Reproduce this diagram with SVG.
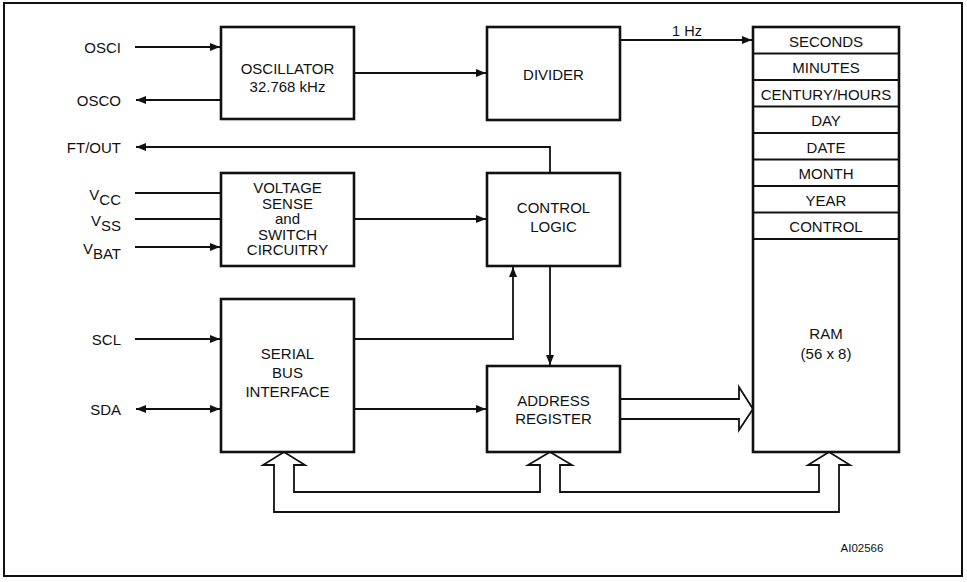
<svg xmlns="http://www.w3.org/2000/svg" width="967" height="582" viewBox="0 0 967 582">
<style>
text{font-family:"Liberation Sans",Arial,sans-serif;font-size:15px;fill:#111}
.c{text-anchor:middle}
.e{text-anchor:end}
.box{fill:#fff;stroke:#111;stroke-width:2.6}
.ln{fill:none;stroke:#111;stroke-width:1.8}
.row{stroke:#111;stroke-width:2}
</style>
<defs>
<marker id="arr" viewBox="0 0 10 8" refX="10" refY="4" markerWidth="11" markerHeight="8" orient="auto-start-reverse" markerUnits="userSpaceOnUse">
<path d="M0,0 L10,4 L0,8 z" fill="#111"/>
</marker>
</defs>
<rect x="0" y="0" width="967" height="582" fill="#fff"/>
<rect x="4" y="3" width="958" height="573" fill="none" stroke="#111" stroke-width="2"/>

<g id="connectors">
<path class="ln" d="M135,47 H220" marker-end="url(#arr)"/>
<path class="ln" d="M221,100 H136" marker-end="url(#arr)"/>
<path class="ln" d="M354,73 H486" marker-end="url(#arr)"/>
<path class="ln" d="M550,173 V147 H136" marker-end="url(#arr)"/>
<path class="ln" d="M135,193 H221"/>
<path class="ln" d="M135,219 H221"/>
<path class="ln" d="M135,247 H220" marker-end="url(#arr)"/>
<path class="ln" d="M354,219 H486" marker-end="url(#arr)"/>
<path class="ln" d="M620,40 H752" marker-end="url(#arr)"/>
<path class="ln" d="M135,339 H220" marker-end="url(#arr)"/>
<path class="ln" d="M136,409 H220" marker-start="url(#arr)" marker-end="url(#arr)"/>
<path class="ln" d="M354,339 H513 V267" marker-end="url(#arr)"/>
<path class="ln" d="M550,266 V365" marker-end="url(#arr)"/>
<path class="ln" d="M354,409 H486" marker-end="url(#arr)"/>
<path class="ln" d="M620,399 H739 V387 L753,409 L739,430 V419 H620" fill="#fff"/>
<path class="ln" fill="#fff" d="M274,465 V512 H839 V465 H850 L829,452 L808,465 H819 V492 H560 V465 H572 L550,452 L528,465 H540 V492 H294 V465 H305 L284,452 L263,465 Z"/>
</g>

<g id="labels">
<text class="e" x="121" y="52.5">OSCI</text>
<text class="e" x="121" y="105.5">OSCO</text>
<text class="e" x="121" y="152.5">FT/OUT</text>
<text class="e" x="121" y="200">V<tspan dy="4.5">CC</tspan></text>
<text class="e" x="121" y="226">V<tspan dy="4.5">SS</tspan></text>
<text class="e" x="121" y="254">V<tspan dy="4.5">BAT</tspan></text>
<text class="e" x="121" y="344.5">SCL</text>
<text class="e" x="121" y="414.5">SDA</text>
<text class="c" x="687" y="36" style="font-size:14.5px">1 Hz</text>
<text class="c" x="862" y="551.5" style="font-size:11.5px">AI02566</text>
</g>

<g id="oscillator">
<rect class="box" x="221" y="27" width="133" height="92"/>
<text class="c" x="287.5" y="73.5">OSCILLATOR</text>
<text class="c" x="287.5" y="92">32.768 kHz</text>
</g>

<g id="divider">
<rect class="box" x="487" y="27" width="133" height="93"/>
<text class="c" x="553.5" y="79.5">DIVIDER</text>
</g>

<g id="voltage">
<rect class="box" x="221" y="173" width="133" height="93"/>
<text class="c" x="287.5" y="193">VOLTAGE</text>
<text class="c" x="287.5" y="208.5">SENSE</text>
<text class="c" x="287.5" y="223.5">and</text>
<text class="c" x="287.5" y="239.5">SWITCH</text>
<text class="c" x="287.5" y="255">CIRCUITRY</text>
</g>

<g id="control">
<rect class="box" x="487" y="173" width="133" height="93"/>
<text class="c" x="553.5" y="213">CONTROL</text>
<text class="c" x="553.5" y="232">LOGIC</text>
</g>

<g id="serial">
<rect class="box" x="221" y="299" width="133" height="153"/>
<text class="c" x="287.5" y="358.5">SERIAL</text>
<text class="c" x="287.5" y="377.5">BUS</text>
<text class="c" x="287.5" y="396.5">INTERFACE</text>
</g>

<g id="address">
<rect class="box" x="487" y="366" width="133" height="86"/>
<text class="c" x="553.5" y="405.5">ADDRESS</text>
<text class="c" x="553.5" y="423.5">REGISTER</text>
</g>

<g id="ram">
<rect class="box" x="753" y="27" width="146" height="425"/>
<line class="row" x1="753" y1="53.5" x2="899" y2="53.5"/>
<line class="row" x1="753" y1="80" x2="899" y2="80"/>
<line class="row" x1="753" y1="106.5" x2="899" y2="106.5"/>
<line class="row" x1="753" y1="133" x2="899" y2="133"/>
<line class="row" x1="753" y1="159.5" x2="899" y2="159.5"/>
<line class="row" x1="753" y1="186" x2="899" y2="186"/>
<line class="row" x1="753" y1="212.5" x2="899" y2="212.5"/>
<line class="row" x1="753" y1="239" x2="899" y2="239"/>
<text class="c" x="826" y="46.5">SECONDS</text>
<text class="c" x="826" y="73">MINUTES</text>
<text class="c" x="826" y="99.5">CENTURY/HOURS</text>
<text class="c" x="826" y="126">DAY</text>
<text class="c" x="826" y="152.5">DATE</text>
<text class="c" x="826" y="179">MONTH</text>
<text class="c" x="826" y="205.5">YEAR</text>
<text class="c" x="826" y="232">CONTROL</text>
<text class="c" x="826" y="338.5">RAM</text>
<text class="c" x="826" y="358.5">(56 x 8)</text>
</g>
</svg>
